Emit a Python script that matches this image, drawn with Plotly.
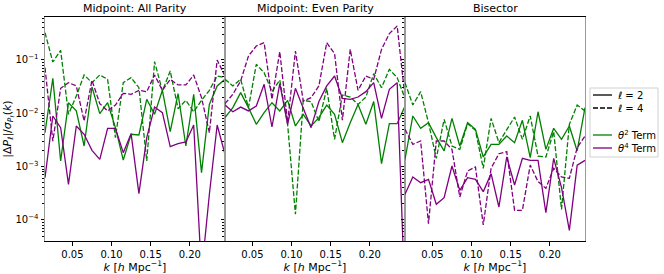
import plotly.graph_objects as go
from plotly.subplots import make_subplots

k = [0.015, 0.025, 0.035, 0.045, 0.055, 0.065, 0.075, 0.085, 0.095, 0.105, 0.115, 0.125,
     0.135, 0.145, 0.155, 0.165, 0.175, 0.185, 0.195, 0.205, 0.215, 0.225, 0.235, 0.245]

panel_titles = ["Midpoint: All Parity", "Midpoint: Even Parity", "Bisector"]

# Panel 1: Midpoint, all parity
mid_all_t2_l2 = [0.00434, 0.0453, 0.00128, 0.0158, 0.0111, 0.00244, 0.0312, 0.00986, 0.0158, 0.00539, 0.00133, 0.00404,
                 0.00392, 0.0183, 0.00958, 0.027, 0.00453, 0.0234, 0.00244, 0.0227, 0.000772, 0.0147, 0.0326, 0.0434]
mid_all_t2_l4 = [0.325, 0.0917, 0.152, 0.00958, 0.0211, 0.0524, 0.0376, 0.0524, 0.0434, 0.0035, 0.0376, 0.0467,
                 0.0303, 0.00128, 0.0931, 0.0262, 0.0622, 0.0122, 0.0175, 0.0107, 0.0175, 0.027, 0.0501, 0.0467]
mid_all_t4_l2 = [0.000622, 0.00891, 0.00539, 0.000467, 0.00579, 0.00404, 0.00202, 0.00137, 0.00523, 0.00523, 0.00183, 0.00416,
                 0.000312, 0.0035, 0.0131, 0.0103, 0.00237, 0.0027, 0.0029, 0.00604, 0.00001, 0.0003, 0.00604, 0.0017]
mid_all_t4_l4 = [0.0718, 0.003, 0.0294, 0.0376, 0.0326, 0.00718, 0.0416, 0.0152, 0.0111, 0.0143, 0.0237, 0.0227,
                 0.027, 0.0255, 0.0524, 0.027, 0.0434, 0.034, 0.034, 0.0524, 0.0197, 0.00434, 0.1, 0.0501]

# Panel 2: Midpoint, even parity
mid_even_t2_l2 = [0.0083, 0.0128, 0.0244, 0.0128, 0.00622, 0.0103, 0.0158, 0.0111, 0.0175, 0.00579, 0.00958, 0.00579,
                  0.0083, 0.0143, 0.00958, 0.00282, 0.00668, 0.0147, 0.00622, 0.0166, 0.00114, 0.0064, 0.0064, 0.0137]
mid_even_t2_l4 = [0.0434, 0.0326, 0.0434, 0.0128, 0.083, 0.0579, 0.0255, 0.0422, 0.00622, 0.000128, 0.0175, 0.0166,
                  0.00698, 0.0294, 0.00326, 0.0221, 0.0202, 0.0147, 0.0202, 0.0554, 0.0303, 0.0668, 0.0467, 0.0191]
mid_even_t4_l2 = [0.0143, 0.0107, 0.0131, 0.0111, 0.0137, 0.035, 0.00554, 0.036, 0.00622, 0.0294, 0.0124, 0.00539,
                  0.0166, 0.0326, 0.0501, 0.0191, 0.0183, 0.0202, 0.0255, 0.0376, 0.00805, 0.0282, 0.0376, 0.000003]
mid_even_t4_l4 = [0.0152, 0.0227, 0.0404, 0.119, 0.183, 0.211, 0.0183, 0.143, 0.00668, 0.147, 0.017, 0.0197,
                  0.0326, 0.211, 0.131, 0.0074, 0.158, 0.027, 0.0501, 0.0434, 0.158, 0.312, 0.434, 0.02]

# Panel 3: Bisector
bis_t2_l2 = [0.00137, 0.00891, 0.00523, 0.00668, 0.0035, 0.00197, 0.00805, 0.00244, 0.00668, 0.00501, 0.00152, 0.00262,
             0.00262, 0.00376, 0.00282, 0.0074, 0.00148, 0.0107, 0.00211, 0.00523, 0.00326, 0.00579, 0.00197, 0.0128]
bis_t2_l4 = [0.0376, 0.0143, 0.0255, 0.00668, 0.00143, 0.00772, 0.00244, 0.00211, 0.0064, 0.0048, 0.00093, 0.00805,
             0.00282, 0.00501, 0.00853, 0.00326, 0.00891, 0.00158, 0.00152, 0.00453, 0.000158, 0.00622, 0.0143, 0.0111]
bis_t4_l2 = [0.000303, 0.00064, 0.000501, 0.000579, 0.000197, 0.000262, 0.00103, 0.00036, 0.000622, 0.000579, 0.00034, 0.00074,
             0.000175, 0.00152, 0.000453, 0.00143, 0.00131, 0.00131, 0.000137, 0.00143, 0.000404, 0.000064, 0.00107, 0.00131]
bis_t4_l4 = [0.00501, 0.00262, 0.00303, 0.000085, 0.00303, 0.00303, 0.00211, 0.00027, 0.00083, 0.00099, 0.000081, 0.00093,
             0.00175, 0.00191, 0.000152, 0.000152, 0.00107, 0.000524, 0.000393, 0.00093, 0.00064, 0.000604, 0.00227, 0.00376]

panels = [
    (mid_all_t2_l2, mid_all_t2_l4, mid_all_t4_l2, mid_all_t4_l4),
    (mid_even_t2_l2, mid_even_t2_l4, mid_even_t4_l2, mid_even_t4_l4),
    (bis_t2_l2, bis_t2_l4, bis_t4_l2, bis_t4_l4),
]

legend_labels = ["<i>ℓ</i> = 2", "<i>ℓ</i> = 4", "<i>θ</i><sup>2</sup> Term", "<i>θ</i><sup>4</sup> Term"]

y_tickvals = [1e-4, 1e-3, 1e-2, 1e-1]
y_ticktext = ["10<sup>−4</sup>", "10<sup>−3</sup>", "10<sup>−2</sup>", "10<sup>−1</sup>"]
x_tickvals = [0.05, 0.10, 0.15, 0.20]
x_ticktext = ["0.05", "0.10", "0.15", "0.20"]

GREEN = "#008000"
PURPLE = "#800080"
DASH = "5px,2px"
LW = 1.3

W, H = 664, 274
ML, MR, MT, MB = 45, 79, 17, 33
PW, PH = W - ML - MR, H - MT - MB


def px(xp):
    return (xp - ML) / PW


def py(yp):
    return (H - MB - yp) / PH


fig = make_subplots(rows=1, cols=3, shared_yaxes=True, horizontal_spacing=0)

for c, (t2l2, t2l4, t4l2, t4l4) in enumerate(panels, start=1):
    for ys, color, dash in [(t2l2, GREEN, "solid"), (t2l4, GREEN, DASH),
                            (t4l2, PURPLE, "solid"), (t4l4, PURPLE, DASH)]:
        fig.add_trace(go.Scatter(x=k, y=ys, mode="lines",
                                 line=dict(color=color, width=LW, dash=dash),
                                 showlegend=False, hoverinfo="skip"), row=1, col=c)

for c in range(1, 4):
    fig.update_xaxes(row=1, col=c, range=[0.015, 0.245], tickvals=x_tickvals, ticktext=x_ticktext,
                     ticks="outside", ticklen=3.5, tickcolor="black", showgrid=False, zeroline=False,
                     showline=True, linecolor="black", linewidth=1, mirror=True, automargin=False,
                     title=dict(text="<i>k</i> [<i>h</i> Mpc<sup>−1</sup>]", standoff=2,
                                font=dict(size=11, color="black")),
                     tickfont=dict(size=10, color="black"))
    fig.update_yaxes(row=1, col=c, type="log", range=[-4.394, -0.194],
                     tickvals=y_tickvals, ticktext=y_ticktext,
                     ticks="outside", ticklen=3.5, tickcolor="black",
                     minor=dict(ticks="outside", ticklen=2, tickcolor="black", showgrid=False,
                                tickvals=[m * 10 ** e for e in range(-5, 0) for m in range(2, 10)]),
                     showgrid=False, zeroline=False, automargin=False,
                     showline=True, linecolor="#9a9a9a", linewidth=1, mirror=True,
                     tickfont=dict(size=10, color="black"))

fig.update_yaxes(row=1, col=1, title=dict(text="|Δ<i>P</i><sub><i>ℓ</i></sub>|/<i>σ</i><sub><i>P</i><sub><i>ℓ</i></sub></sub>(<i>k</i>)",
                                           standoff=0, font=dict(size=11, color="black")))

for i, t in enumerate(panel_titles):
    fig.add_annotation(text=t, x=0.5, xref=f"x{'' if i == 0 else i + 1} domain",
                       y=1.0, yref="paper", yanchor="bottom", yshift=0,
                       showarrow=False, font=dict(size=11, color="black"))

# custom legend (box, sample lines, labels)
fig.add_shape(type="rect", xref="paper", yref="paper",
              x0=px(590), x1=px(658), y0=py(157), y1=py(88),
              line=dict(color="#d0d0d0", width=1), fillcolor="white", layer="above")
legend_rows = [(95, "black", "solid"), (108, "black", DASH), (135, GREEN, "solid"), (148, PURPLE, "solid")]
for (yrow, color, dash), label in zip(legend_rows, legend_labels):
    fig.add_shape(type="line", xref="paper", yref="paper",
                  x0=px(593), x1=px(612), y0=py(yrow), y1=py(yrow),
                  line=dict(color=color, width=LW, dash=dash), layer="above")
    fig.add_annotation(text=label, xref="paper", yref="paper", x=px(616), y=py(yrow),
                       xanchor="left", yanchor="middle", showarrow=False,
                       font=dict(size=10, color="black"))

fig.update_layout(
    width=W, height=H,
    margin=dict(l=ML, r=MR, t=MT, b=MB, autoexpand=False),
    plot_bgcolor="white", paper_bgcolor="white",
    font=dict(family="DejaVu Sans", size=10, color="black"),
    showlegend=False,
)

fig.write_html("out.html", config={"displayModeBar": False},
               post_script="document.body.style.margin='0';document.body.style.padding='0';document.body.style.overflow='hidden';")
